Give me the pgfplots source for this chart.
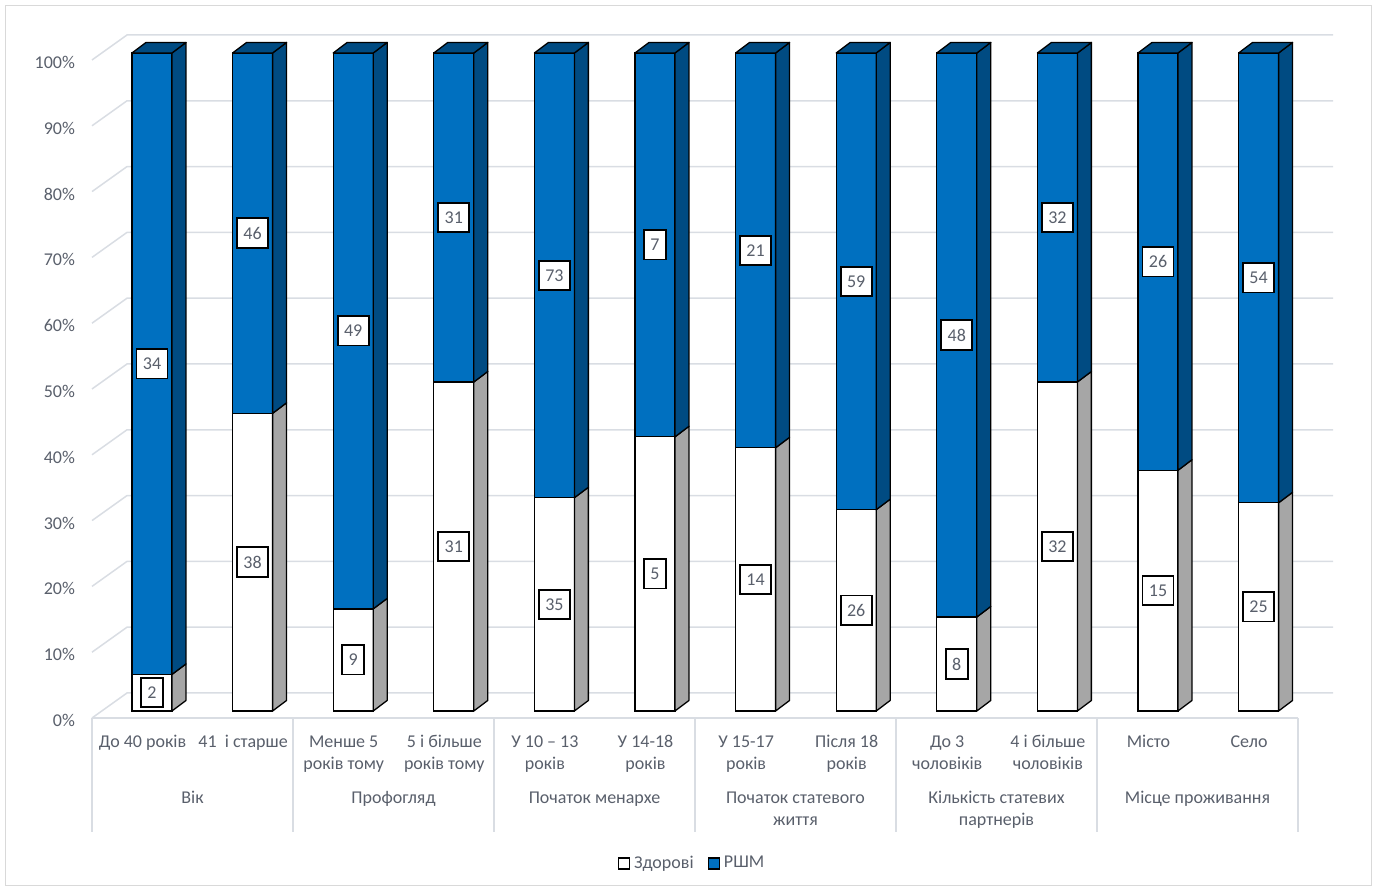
\documentclass[border=0pt]{standalone}
\usepackage{fontspec}
\setmainfont{Carlito}
\usepackage{pgfplots}
\usepackage{pgfplotstable}
\pgfplotsset{compat=1.18}
\definecolor{barblue}{HTML}{0070C0}
\definecolor{darkblue}{HTML}{004B82}
\definecolor{sidegrey}{HTML}{A6A6A6}
\definecolor{txt}{HTML}{595F6B}
\definecolor{gridc}{HTML}{D9DDE3}
\definecolor{framec}{HTML}{D9D9D9}
\tikzset{lbl/.style={draw=black, fill=white, line width=0.9pt, text=txt, anchor=center, inner xsep=3.2pt, inner ysep=4.4pt, font=\fontsize{9}{11}\selectfont}}
\pgfplotsset{face/.style={draw=black, line width=0.65pt, line join=round, forget plot}}

\pgfplotstableread{
x h r
0 2 34
1 38 46
2 9 49
3 31 31
4 35 73
5 5 7
6 14 21
7 26 59
8 8 48
9 32 32
10 15 26
11 25 54
}\data
\pgfplotstablecreatecol[expr={100*\thisrow{h}/(\thisrow{h}+\thisrow{r})}]{p}\data

\begin{document}
\begin{tikzpicture}[font=\fontsize{9}{11}\selectfont]
\begin{scope}[x=0.5pt,y=-0.5pt,shift={(0pt,444pt)}]
 \useasboundingbox (0,0) rectangle (1378,888);
 \draw[framec, line width=0.5pt] (5,6) rectangle (1371,886);
 \foreach \k in {0,...,10}{
   \pgfmathsetmacro\yf{718-65.8*\k}
   \pgfmathsetmacro\yb{693-65.8*\k}
   \draw[gridc, line width=0.75pt] (92,\yf) -- (127,\yb) -- (1333,\yb);
 }
 \draw[gridc, line width=0.75pt] (92,718) -- (1298,718);
 \foreach \g in {0,...,6}{\draw[gridc, line width=0.75pt] ({92+201*\g},718) -- ({92+201*\g},832);}
\end{scope}

\begin{axis}[
  at={(76pt,88.5pt)}, anchor=origin,
  x=50.3pt, y=3.29pt,
  xmin=-0.5964, xmax=11.6, ymin=0, ymax=103,
  clip=false,
  axis line style={draw=none},
  major tick length=0pt,
  tick label style={text=txt, font=\fontsize{9}{11}\selectfont},
  xtick={0,...,11},
  xticklabels={{До 40 років},{41 \ і старше},{Менше 5\\років тому},{5 і більше\\років тому},{У 10 – 13\\років},{У 14-18\\років},{У 15-17\\років},{Після 18\\років},{До 3\\чоловіків},{4 і більше\\чоловіків},{Місто},{Село}},
  typeset ticklabels with strut,
  xticklabel style={align=center, xshift=-4.75pt, yshift=-6.8pt},
  ytick={0,10,...,100},
  yticklabels={0\%,10\%,20\%,30\%,40\%,50\%,60\%,70\%,80\%,90\%,100\%},
  yticklabel style={xshift=-5pt, yshift=-5.6pt},
  legend image code/.code={\draw[#1, line width=0.65pt] (0pt,-2.75pt) rectangle (5.5pt,2.75pt);},
  legend style={at={(axis cs:5.378,-23.2)}, anchor=center, draw=none, fill=none, legend columns=2, font=\fontsize{9}{11}\selectfont, text=txt, /tikz/every even column/.append style={column sep=5pt}, inner sep=0pt},
]
\addplot[ybar, bar width=0.3976, bar shift=0pt, fill=barblue, draw=black, line width=0.65pt, forget plot] table[x=x, y expr=100]{\data};
\addplot[ybar, bar width=0.3976, bar shift=0pt, fill=white, draw=black, line width=0.65pt, forget plot] table[x=x, y=p]{\data};

\pgfplotsinvokeforeach{0,...,11}{
  \pgfplotstablegetelem{#1}{p}\of\data
  \pgfmathsetmacro\pv{\pgfplotsretval}
  \pgfmathsetmacro\pa{\pv+1.6}
  \pgfmathsetmacro\xl{#1-0.1988}
  \pgfmathsetmacro\xr{#1+0.1988}
  \pgfmathsetmacro\xlb{\xl+0.139}
  \pgfmathsetmacro\xd{\xr+0.139}
  \edef\tmp{%
    \noexpand\addplot[face, fill=sidegrey] coordinates {(\xr,0) (\xd,1.6) (\xd,\pa) (\xr,\pv)} -- cycle;
    \noexpand\addplot[face, fill=darkblue] coordinates {(\xr,\pv) (\xd,\pa) (\xd,101.6) (\xr,100)} -- cycle;
    \noexpand\addplot[face, fill=darkblue] coordinates {(\xl,100) (\xlb,101.6) (\xd,101.6) (\xr,100)} -- cycle;
  }\tmp
}

\addplot[draw=none, mark=none, forget plot, nodes near coords, point meta=explicit symbolic, every node near coord/.append style={lbl}] table[x=x, y expr=\thisrow{p}/2, meta=h]{\data};
\addplot[draw=none, mark=none, forget plot, nodes near coords, point meta=explicit symbolic, every node near coord/.append style={lbl}] table[x=x, y expr=(\thisrow{p}+100)/2, meta=r]{\data};

\addlegendimage{fill=white, draw=black}
\addlegendentry{Здорові}
\addlegendimage{fill=barblue, draw=black}
\addlegendentry{РШМ}
\end{axis}

\begin{scope}[x=0.5pt,y=-0.5pt,shift={(0pt,444pt)}, every node/.style={text=txt, anchor=base, inner sep=0pt}]
 \node at (192.5,803.5) {Вік};
 \node at (393.5,803.5) {Профогляд};
 \node at (594.5,803.5) {Початок менархе};
 \node at (795.5,803.5) {Початок статевого};
 \node at (795.5,825.5) {життя};
 \node at (996.5,803.5) {Кількість статевих};
 \node at (996.5,825.5) {партнерів};
 \node at (1197.5,803.5) {Місце проживання};
\end{scope}
\end{tikzpicture}
\end{document}
